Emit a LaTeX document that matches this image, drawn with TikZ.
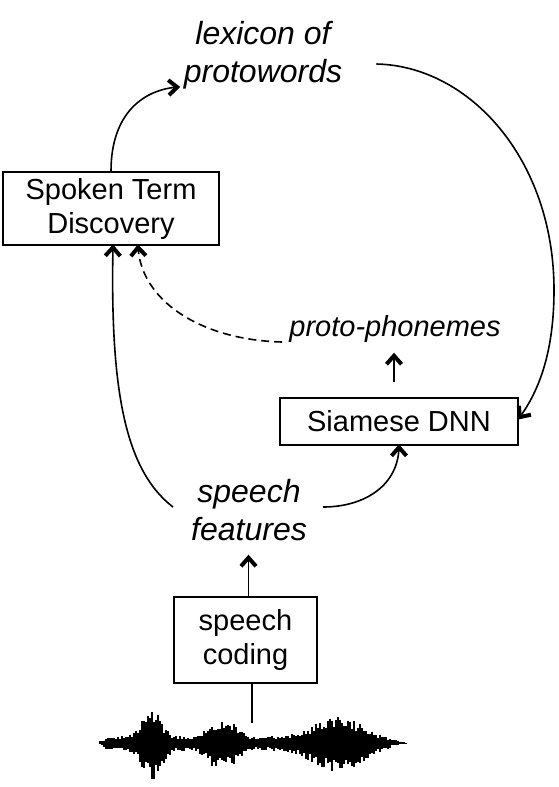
\documentclass[tikz,border=0pt]{standalone}
\usepackage{fontspec}
\setmainfont{Liberation Sans}
\usetikzlibrary{decorations.markings}
\begin{document}
\begin{tikzpicture}[x=1pt,y=-1pt,
  box/.style={draw, line width=1.6pt, inner sep=0pt, align=center, font=\fontsize{29}{34}\selectfont},
  lbl/.style={inner sep=0pt, align=center, font=\fontsize{32}{38}\selectfont\itshape},
  conn/.style={line width=1.6pt, postaction={decorate},
    decoration={markings, mark=at position 0.9995 with {%
      \draw[solid, line width=4pt, line join=miter, line cap=butt] (-10pt,-7.5pt) -- (-1.5pt,0pt) -- (-10pt,7.5pt);}}},
  plain/.style={line width=1.6pt},
  wave/.style={line width=1.3pt},
]
\useasboundingbox (0,0) rectangle (558,787);

\node[box, minimum width=216pt, minimum height=73pt] (std) at (111,208.5) {Spoken Term\\Discovery};
\node[box, minimum width=238pt, minimum height=47pt] (sia) at (399,421.5) {Siamese DNN};
\node[box, minimum width=143pt, minimum height=86pt] (cod) at (245.5,640) {speech\\coding};
\node[lbl] (lex) at (263,55) {lexicon of\\protowords};
\node[lbl, font=\fontsize{29}{34}\selectfont\itshape] (pp) at (395,329) {proto-phonemes};
\node[lbl] (feat) at (249,510) {speech\\features};
\coordinate (wv) at (252,723);

% connectors
\draw[conn] (std.north) .. controls (111,112) and (145,89) .. ([shift={(-5,32)}]lex.west);
\draw[conn] ([shift={(34,9)}]lex.east) .. controls (470,66) and (554,160) .. (554,290)
  .. controls (554,350) and (540,390) .. ([yshift=3pt]sia.east);
\draw[conn] ([shift={(-18,-3)}]feat.west) .. controls (125,470) and (110,390) .. ([xshift=2pt]std.south);
\draw[conn] ([shift={(16,-3)}]feat.east) .. controls (365,507) and (399,485) .. (sia.south);
\draw[conn, dash pattern=on 8pt off 5pt] ([shift={(-7,13)}]pp.west) .. controls (200,340) and (140,300) .. ([xshift=27pt]std.south);
\draw[conn] ([shift={(-5,-15)}]sia.north) -- ([shift={(-5,-43)}]sia.north);
\draw[conn] ([xshift=3pt]cod.north) -- ([shift={(3,-40)}]cod.north);
\draw[plain] ([xshift=6.5pt]cod.south) -- (wv);

% waveform
\pgfmathsetseed{7}
\foreach \x in {100,102,...,406}{
  \pgfmathsetmacro\base{7*min(1,(\x-97)/12)*min(1,(408-\x)/40)}
  \pgfmathsetmacro\ta{min(((\x-152)/13)^2,30)}
  \pgfmathsetmacro\tb{((\x-222)/20)^2}
  \pgfmathsetmacro\tbb{min(\tb*\tb,30)}
  \pgfmathsetmacro\tc{min(((\x-338)/32)^2,30)}
  \pgfmathsetmacro\env{\base+27*exp(-\ta)+15*exp(-\tbb)+20*exp(-\tc)}
  \pgfmathsetmacro\up{\env*(0.55+0.45*rnd)}
  \pgfmathsetmacro\dn{\env*(0.6+0.5*rnd)}
  \draw[wave] (\x,743-\up) -- (\x,743+\dn);
}
\end{tikzpicture}
\end{document}
